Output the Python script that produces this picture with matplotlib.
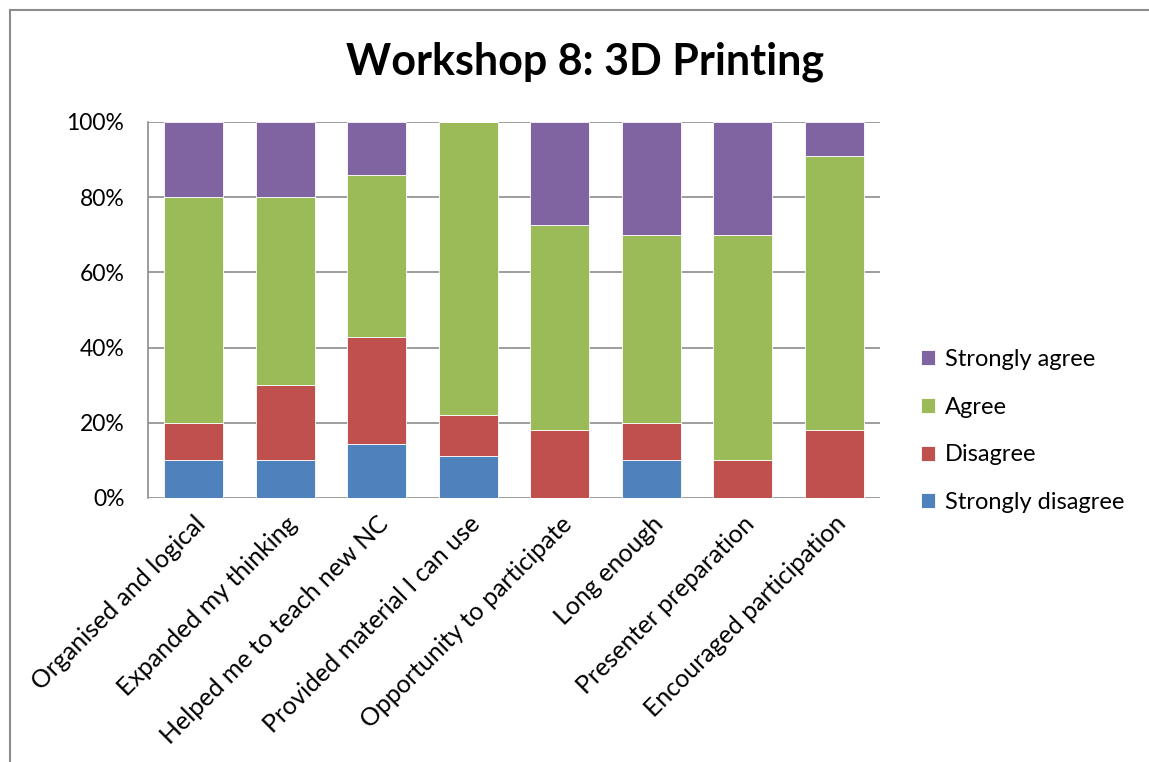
import matplotlib.pyplot as plt
from matplotlib.lines import Line2D
import numpy as np

plt.rcParams['font.family'] = ['Lato', 'DejaVu Sans']

# Données (en %)
categories = [
    "Organised and logical",
    "Expanded my thinking",
    "Helped me to teach new NC",
    "Provided material I can use",
    "Opportunity to participate",
    "Long enough",
    "Presenter preparation",
    "Encouraged participation",
]
strongly_disagree = [10, 10, 14.3, 11.1, 0, 10, 0, 0]
disagree = [10, 20, 28.6, 11.1, 18.2, 10, 10, 18.2]
agree = [60, 50, 42.9, 77.8, 54.5, 50, 60, 72.7]
strongly_agree = [20, 20, 14.3, 0, 27.3, 30, 30, 9.1]

series = [
    ("Strongly disagree", strongly_disagree, "#4F81BD"),
    ("Disagree", disagree, "#C0504D"),
    ("Agree", agree, "#9BBB59"),
    ("Strongly agree", strongly_agree, "#8064A2"),
]

W, H = 1149, 762
fig = plt.figure(figsize=(W / 100, H / 100), dpi=100)
ax = fig.add_axes([148 / W, 1 - 498 / H, (880 - 148) / W, (498 - 122) / H])

x = np.arange(len(categories))
bottom = np.zeros(len(categories))
handles = []
for name, vals, color in series:
    vals = np.array(vals, dtype=float)
    b = ax.bar(x, vals, bottom=bottom, width=0.645, color=color,
               edgecolor="white", linewidth=0.6, label=name, zorder=3)
    handles.append(b)
    bottom += vals

ax.set_xlim(-0.5, len(categories) - 0.5)
ax.set_ylim(0, 100)
ax.set_yticks(range(0, 101, 20))
ax.set_yticklabels([f"{v}%" for v in range(0, 101, 20)], fontsize=16.5)
ax.yaxis.grid(True, color="#8c8c8c", linewidth=1.2, zorder=0)
ax.set_xticks(x)
ax.set_xticklabels(categories, rotation=45, ha="right", va="top",
                   rotation_mode="anchor", fontsize=18)
ax.tick_params(axis="x", length=0, pad=10)
ax.tick_params(axis="y", length=0, pad=17)
for s in ["top", "right", "bottom"]:
    ax.spines[s].set_visible(False)
ax.spines["left"].set_color("#8c8c8c")
ax.spines["left"].set_linewidth(1.2)

fig.text(585 / W, 1 - 62 / H, "Workshop 8: 3D Printing", ha="center", va="center",
         fontsize=31, fontweight="bold")

leg = fig.legend(handles[::-1], [s[0] for s in series][::-1],
                 loc="center left", bbox_to_anchor=(900 / W, 1 - 431 / H),
                 frameon=False, fontsize=17, handlelength=0.6, handleheight=0.6,
                 handletextpad=0.4, labelspacing=1.13)

# cadre du graphique
fig.add_artist(Line2D([10 / W, 10 / W], [0, 1 - 10 / H], color="#8c8c8c", lw=1.5))
fig.add_artist(Line2D([10 / W, 1], [1 - 10 / H, 1 - 10 / H], color="#8c8c8c", lw=1.5))

fig.savefig("out.png", dpi=100)
